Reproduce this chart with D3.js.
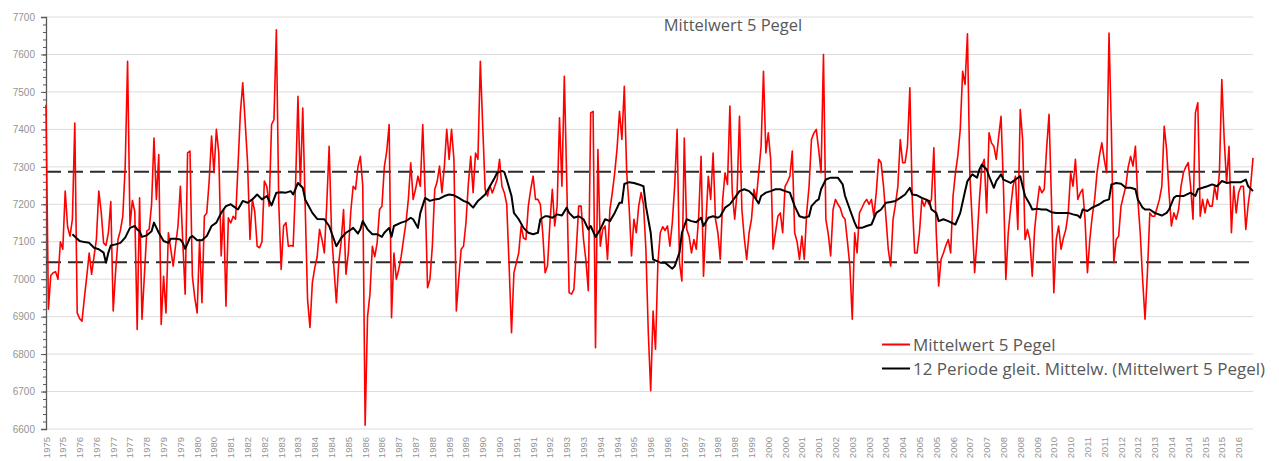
<!DOCTYPE html>
<html><head><meta charset="utf-8">
<script src="https://cdn.jsdelivr.net/npm/d3@7"></script>
<style>
body{margin:0;background:#fff;}
svg{display:block;}
</style>
</head><body>
<svg id="chart" width="1279" height="461"></svg>
<script>
// ---- data (monthly, Jan 1975 – Dec 2016) ----
const values = [
7466,6920,7010,7017,7020,7000,7100,7080,7235,7140,
7115,7160,7417,6910,6895,6888,6950,7008,7070,7013,
7060,7106,7235,7180,7097,7090,7124,7207,6915,7020,
7106,7130,7168,7300,7582,7142,7210,7180,6866,7217,6893,
7010,7128,7133,7200,7377,7213,7333,6879,7008,6910,
7124,7080,7035,7090,7142,7248,7100,6960,7337,7342,
7008,6950,6910,7106,6937,7168,7177,7262,7382,7284,
7400,7337,7062,7186,6928,7164,7150,7168,7160,7300,
7444,7524,7420,7311,7106,7213,7180,7088,7084,7100,
7262,7248,7195,7413,7426,7666,7204,7026,7142,7151,
7088,7090,7088,7250,7488,7248,7457,7200,6946,6871,
6991,7030,7060,7133,7106,7070,7200,7355,7124,7030,6937,
7044,7100,7186,7013,7070,7180,7248,7240,7300,7328,
7250,6610,6900,6960,7088,7060,7097,7186,7195,7300,
7342,7413,6897,7070,7000,7026,7060,7106,7150,7213,
7311,7213,7240,7275,7248,7413,7231,6977,7000,7088,
7240,7260,7302,7231,7300,7400,7320,7400,7320,6915,
7000,7080,7088,7150,7253,7328,7231,7337,7320,7582,
7408,7240,7222,7250,7230,7248,7266,7320,7248,7231,7200,
7035,6857,7017,7044,7070,7142,7110,7106,7195,7240,
7275,7213,7213,7200,7124,7017,7035,7150,7240,7142,
7195,7431,7248,7542,7266,6964,6960,6973,7080,7195,
7195,7106,7050,6969,7444,7448,6817,7346,7088,7133,
7142,7053,7186,7231,7284,7350,7448,7373,7515,7284,
7195,7062,7160,7124,7195,7231,7200,7080,6857,6702,
6915,6813,7044,7124,7140,7130,7142,7088,7151,7250,7400,
7044,6995,7377,7133,7115,7070,7106,7080,7168,7328,
7008,7150,7275,7213,7337,7160,7124,7053,7213,7284,
7253,7462,7231,7160,7231,7435,7186,7110,7053,7124,
7160,7240,7213,7284,7355,7555,7337,7391,7320,7080,
7124,7168,7177,7124,7248,7260,7275,7342,7124,7100,
7053,7115,7053,7177,7248,7373,7390,7400,7346,7284,
7600,7160,7120,7062,7186,7213,7200,7190,7168,7160,7100,
7035,6893,7124,7070,7177,7190,7204,7213,7200,7213,
7168,7231,7320,7311,7250,7168,7080,7035,7160,7200,
7248,7373,7311,7311,7355,7511,7213,7070,7070,7124,
7213,7195,7213,7200,7213,7351,7124,6982,7053,7070,
7090,7106,7070,7222,7284,7330,7400,7555,7520,7655,
7280,7151,7017,7106,7213,7302,7320,7177,7391,7364,
7355,7320,7380,7435,7248,6999,7124,7190,7248,7275,7133,
7453,7373,7106,7133,7106,7008,7133,7195,7248,7231,
7240,7350,7440,7213,6964,7106,7142,7080,7110,7133,
7177,7284,7248,7320,7213,7230,7240,7160,7017,7106,
7168,7213,7284,7330,7364,7320,7284,7657,7391,7044,
7106,7115,7195,7222,7248,7300,7328,7302,7355,7213,
7124,6999,6893,7017,7177,7168,7168,7190,7213,7248,
7408,7346,7231,7142,7177,7160,7186,7248,7284,7300,7311,
7248,7160,7444,7471,7168,7213,7177,7213,7195,7195,
7248,7213,7284,7533,7373,7257,7355,7124,7248,7177,
7231,7248,7248,7133,7200,7248,7324
];

// 12-period moving average: [month index, value]
const movingAverage = [
[11,7120],[14,7102],[16,7099],[18,7097],[20,7084],[22,7080],[24,7071],[25,7044],[26,7071],[27,7090],
[29,7093],[31,7097],[33,7111],[35,7137],[37,7142],[38,7133],[39,7128],[40,7113],[42,7117],[44,7128],
[45,7151],[47,7124],[49,7102],[51,7097],[52,7108],[54,7108],[56,7106],[57,7097],[58,7081],[60,7111],
[61,7115],[63,7104],[65,7104],[67,7115],[69,7142],[71,7151],[73,7177],[75,7195],[77,7200],[78,7195],
[80,7186],[82,7209],[84,7204],[86,7213],[88,7226],[90,7213],[92,7222],[94,7197],[96,7231],[98,7232],
[100,7231],[102,7235],[103,7226],[105,7257],[107,7244],[108,7213],[111,7177],[113,7161],[116,7160],[118,7142],
[120,7106],[121,7088],[123,7110],[125,7124],[127,7132],[128,7137],[130,7122],[131,7133],[132,7155],[134,7133],
[136,7120],[138,7120],[140,7113],[141,7124],[143,7137],[144,7113],[145,7142],[148,7151],[150,7155],[152,7164],
[153,7160],[155,7137],[156,7177],[158,7217],[160,7209],[162,7213],[164,7215],[166,7222],[168,7226],[170,7224],
[172,7217],[174,7209],[176,7204],[178,7191],[180,7209],[183,7226],[185,7248],[187,7271],[188,7284],[190,7289],
[191,7286],[192,7266],[194,7222],[195,7177],[197,7160],[199,7137],[201,7124],[203,7120],[205,7124],[206,7160],
[208,7168],[209,7168],[211,7164],[213,7173],[215,7170],[217,7191],[218,7177],[220,7164],[222,7168],[224,7160],
[226,7133],[227,7142],[229,7113],[231,7133],[233,7160],[235,7155],[237,7177],[239,7204],[240,7204],[241,7254],
[243,7259],[245,7257],[247,7253],[249,7248],[250,7195],[252,7124],[253,7053],[256,7044],[258,7044],[260,7033],
[261,7028],[262,7035],[264,7071],[265,7124],[267,7160],[269,7155],[271,7152],[273,7164],[274,7142],[276,7164],
[278,7168],[280,7164],[281,7168],[283,7191],[285,7200],[287,7217],[289,7235],[291,7240],[293,7235],[295,7222],
[297,7202],[298,7222],[300,7231],[302,7235],[304,7240],[306,7240],[308,7235],[310,7231],[312,7195],[314,7168],
[316,7164],[318,7168],[319,7195],[321,7209],[322,7213],[323,7240],[325,7266],[327,7271],[330,7271],[332,7253],
[333,7222],[335,7186],[337,7151],[338,7137],[340,7137],[342,7142],[344,7146],[346,7177],[348,7186],[350,7204],
[352,7206],[354,7209],[356,7217],[358,7226],[360,7244],[361,7226],[363,7224],[365,7217],[368,7209],[369,7186],
[371,7177],[372,7155],[374,7160],[376,7155],[379,7146],[381,7177],[383,7235],[384,7262],[386,7280],[388,7271],
[389,7293],[390,7306],[392,7293],[393,7275],[395,7244],[396,7262],[398,7280],[399,7266],[402,7257],[404,7266],
[406,7275],[407,7248],[408,7222],[410,7200],[411,7186],[413,7188],[415,7186],[417,7186],[419,7179],[421,7177],
[423,7177],[426,7177],[428,7173],[430,7170],[431,7164],[432,7186],[434,7182],[436,7191],[439,7200],[441,7209],
[443,7213],[444,7253],[446,7257],[448,7255],[450,7244],[452,7244],[454,7240],[455,7213],[457,7191],[458,7186],
[460,7186],[462,7177],[465,7170],[467,7177],[468,7186],[470,7217],[471,7222],[474,7222],[477,7231],[479,7222],
[480,7240],[482,7244],[484,7248],[486,7253],[488,7248],[490,7262],[492,7257],[494,7259],[496,7259],[498,7259],
[500,7266],[501,7248],[503,7235]
];

const referenceLines = [7287, 7045];
const yTicks = [6600,6700,6800,6900,7000,7100,7200,7300,7400,7500,7600,7700];
// category labels, one every 7th month
const xLabels = ["1975","1975","1976","1976","1977","1977","1978","1979","1979","1980",
"1980","1981","1982","1982","1983","1983","1984","1984","1985","1986",
"1986","1987","1987","1988","1989","1989","1990","1990","1991","1991",
"1992","1993","1993","1994","1994","1995","1996","1996","1997","1997",
"1998","1998","1999","2000","2000","2001","2001","2002","2003","2003",
"2004","2004","2005","2005","2006","2007","2007","2008","2008","2009",
"2010","2010","2011","2011","2012","2012","2013","2014","2014","2015",
"2015","2016"];
const labelEvery = 7;
const title = "Mittelwert 5 Pegel";
const legendLabels = ["Mittelwert 5 Pegel", "12 Periode gleit. Mittelw. (Mittelwert 5 Pegel)"];

// ---- layout ----
const svg = d3.select("#chart");
const pLeft = 46, pRight = 1253, pTop = 17, pBottom = 429;
const x = d3.scaleLinear().domain([0, values.length - 1]).range([pLeft, pRight]);
const y = d3.scaleLinear().domain([6600, 7700]).range([pBottom, pTop]);
const FONT = "'Open Sans', 'Liberation Sans', sans-serif";

// gridlines
svg.append("g").selectAll("line").data(yTicks).join("line")
  .attr("x1", pLeft).attr("x2", pRight)
  .attr("y1", d => y(d)).attr("y2", d => y(d))
  .attr("stroke", "#dcdcdc").attr("stroke-width", 1);

// title
svg.append("text").attr("x", 733).attr("y", 31).attr("text-anchor", "middle")
  .style("font-family", FONT).style("font-size", "16.5px").attr("fill", "#595959").text(title);

// y axis: minor ticks
const minor = svg.append("g").attr("transform", `translate(${pLeft},0)`)
  .call(d3.axisLeft(y).tickValues(d3.range(6600, 7701, 20)).tickSize(3).tickFormat(""));
minor.select(".domain").remove();
minor.selectAll("line").attr("stroke", "#595959");
const yAxis = svg.append("g").attr("transform", `translate(${pLeft},0)`)
  .call(d3.axisLeft(y).tickValues(yTicks).tickSize(5).tickPadding(6).tickFormat(d3.format("d")));
yAxis.select(".domain").attr("stroke", "#595959").attr("stroke-width", 1.3);
yAxis.selectAll("line").attr("stroke", "#595959");
yAxis.selectAll("text").attr("fill", "#949494")
  .style("font-family", "'Liberation Sans', Arial, sans-serif").style("font-size", "10px");

// x labels
svg.append("g").selectAll("text").data(xLabels).join("text")
  .attr("transform", (d, i) => `translate(${x(i * labelEvery) + 3.5},437) rotate(-90)`)
  .attr("text-anchor", "end")
  .style("font-family", "'Liberation Sans', Arial, sans-serif").style("font-size", "9.5px")
  .attr("fill", "#949494").text(d => d);

// reference dashed lines
svg.append("g").selectAll("line").data(referenceLines).join("line")
  .attr("x1", pLeft).attr("x2", pRight)
  .attr("y1", d => y(d)).attr("y2", d => y(d))
  .attr("stroke", "#2b2b2b").attr("stroke-width", 2).attr("stroke-dasharray", "15,7");

// red series
const line = d3.line().x((d, i) => x(i)).y(d => y(d));
svg.append("path").datum(values).attr("d", line)
  .attr("fill", "none").attr("stroke", "#ff0000").attr("stroke-width", 1.6).attr("stroke-linejoin", "round");

// moving average
const maLine = d3.line().x(d => x(d[0])).y(d => y(d[1]));
svg.append("path").datum(movingAverage).attr("d", maLine)
  .attr("fill", "none").attr("stroke", "#000").attr("stroke-width", 2).attr("stroke-linejoin", "round");

// legend
const legend = svg.append("g");
const legendColors = ["#ff0000", "#000000"];
const legendY = [344.5, 368.5];
legendLabels.forEach((lab, k) => {
  legend.append("line").attr("x1", 882).attr("x2", 910).attr("y1", legendY[k]).attr("y2", legendY[k])
    .attr("stroke", legendColors[k]).attr("stroke-width", 2);
  legend.append("text").attr("x", 913).attr("y", legendY[k] + 6)
    .style("font-family", FONT).style("font-size", "17px").attr("fill", "#595959").text(lab);
});
</script>
</body></html>
